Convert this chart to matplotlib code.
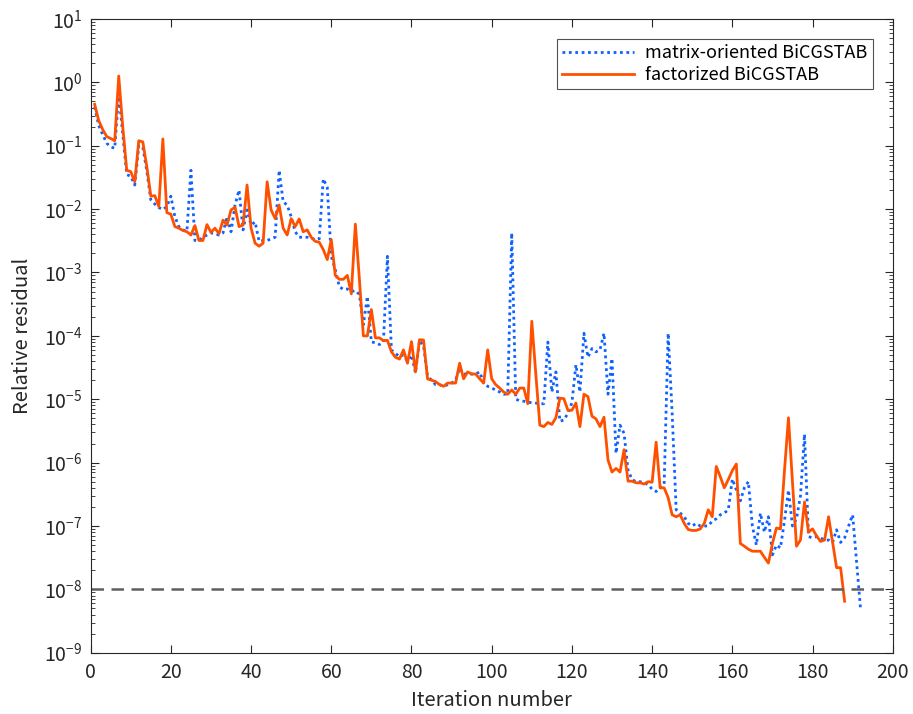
import matplotlib
matplotlib.use("Agg")
import matplotlib.pyplot as plt
from matplotlib.ticker import LogLocator, NullFormatter, MultipleLocator

plt.rcParams['font.family'] = ['Noto Sans CJK JP', 'DejaVu Sans']
plt.rcParams['mathtext.fontset'] = 'custom'
plt.rcParams['mathtext.rm'] = 'Noto Sans CJK JP'

# residual histories (iterations start at 1)
factorized = [
    0.45, 0.25, 0.18, 0.14, 0.13, 0.12, 1.26, 0.2, 0.041, 0.039,
    0.027, 0.12, 0.115, 0.047, 0.016, 0.0163, 0.011, 0.128, 0.0088, 0.0083,
    0.0053, 0.005, 0.0046, 0.0044, 0.0039, 0.0055, 0.0032, 0.0032, 0.0057, 0.0043,
    0.005, 0.0041, 0.0067, 0.0056, 0.0097, 0.0107, 0.0053, 0.0056, 0.024, 0.005,
    0.0029, 0.0026, 0.0029, 0.027, 0.0097, 0.0071, 0.0116, 0.005, 0.0039, 0.0071,
    0.0053, 0.007, 0.0044, 0.0047, 0.0036, 0.0031, 0.003, 0.0023, 0.0016, 0.0033,
    0.0009, 0.00078, 0.00078, 0.0009, 0.00046, 0.0058, 0.0008, 0.0001, 0.0001, 0.00026,
    9.3e-5, 9.3e-5, 8.4e-5, 8.5e-5, 5.6e-5, 4.6e-5, 4.3e-5, 6.0e-5, 3.7e-5, 8.1e-5,
    2.7e-5, 8.7e-5, 8.6e-5, 2.1e-5, 2.0e-5, 1.9e-5, 1.7e-5, 1.6e-5, 1.8e-5, 1.8e-5,
    1.8e-5, 3.7e-5, 2.1e-5, 2.7e-5, 2.5e-5, 2.5e-5, 2.1e-5, 1.8e-5, 6.0e-5, 2.1e-5,
    1.7e-5, 1.5e-5, 1.3e-5, 1.2e-5, 1.4e-5, 1.2e-5, 1.5e-5, 1.5e-5, 8.5e-6, 1.7e-4,
    2.5e-5, 3.9e-6, 3.7e-6, 4.3e-6, 4.0e-6, 5.1e-6, 1.04e-5, 1.02e-5, 6.7e-6, 6.7e-6,
    8.7e-6, 3.7e-6, 1.2e-5, 1.1e-5, 5.4e-6, 4.9e-6, 3.7e-6, 5.2e-6, 1.1e-6, 7.1e-7,
    8.1e-7, 7.1e-7, 1.6e-6, 5.1e-7, 5.1e-7, 4.8e-7, 4.8e-7, 4.6e-7, 5.0e-7, 4.9e-7,
    2.1e-6, 4.0e-7, 4.0e-7, 2.8e-7, 1.5e-7, 1.4e-7, 1.5e-7, 1.1e-7, 8.8e-8, 8.5e-8,
    8.5e-8, 9.0e-8, 1.1e-7, 1.8e-7, 1.4e-7, 8.7e-7, 6.0e-7, 4.0e-7, 5.4e-7, 7.5e-7,
    9.5e-7, 5.3e-8, 4.8e-8, 4.3e-8, 4.0e-8, 4.0e-8, 4.0e-8, 3.2e-8, 2.6e-8, 5.3e-8,
    9.3e-8, 9.0e-8, 7.4e-7, 5.1e-6, 5.0e-7, 4.8e-8, 6.0e-8, 2.4e-7, 8.0e-8, 9.0e-8,
    7.0e-8, 5.7e-8, 6.0e-8, 1.4e-7, 5.5e-8, 2.2e-8, 2.2e-8, 6.5e-9,
]

matrix_oriented = [
    0.41, 0.21, 0.15, 0.11, 0.096, 0.091, 0.67, 0.15, 0.035, 0.033,
    0.024, 0.1, 0.095, 0.04, 0.014, 0.012, 0.0106, 0.0098, 0.011, 0.016,
    0.0076, 0.0053, 0.0047, 0.0045, 0.041, 0.0032, 0.0032, 0.0036, 0.0039, 0.0042,
    0.0041, 0.0039, 0.0042, 0.0076, 0.0044, 0.0116, 0.02, 0.0047, 0.0097, 0.0056,
    0.0063, 0.0031, 0.0032, 0.0032, 0.0034, 0.0036, 0.041, 0.013, 0.0116, 0.0076,
    0.0044, 0.0036, 0.0036, 0.0036, 0.0035, 0.0033, 0.0034, 0.03, 0.022, 0.0018,
    0.0011, 0.0006, 0.00054, 0.00055, 0.0005, 0.00052, 0.00045, 0.00015, 0.00042, 8.0e-5,
    7.8e-5, 7.3e-5, 8.0e-5, 0.0018, 6.0e-5, 5.3e-5, 4.7e-5, 5.0e-5, 4.0e-5, 5.0e-5,
    2.6e-5, 8.5e-5, 7.0e-5, 2.3e-5, 2.0e-5, 1.7e-5, 1.7e-5, 1.6e-5, 1.7e-5, 1.8e-5,
    2.0e-5, 3.1e-5, 2.5e-5, 2.5e-5, 2.5e-5, 2.5e-5, 2.7e-5, 1.8e-5, 1.6e-5, 1.5e-5,
    1.4e-5, 1.3e-5, 1.2e-5, 1.2e-5, 0.0042, 1.0e-5, 9.5e-6, 9.3e-6, 9.0e-6, 8.8e-6,
    8.7e-6, 8.5e-6, 8.5e-6, 8.0e-5, 1.3e-5, 2.7e-5, 4.5e-6, 4.7e-6, 6.0e-6, 8.8e-6,
    3.5e-5, 1.3e-5, 0.00011, 4.6e-5, 6.3e-5, 5.6e-5, 6.0e-5, 0.00011, 1.2e-5, 4.4e-5,
    1.4e-6, 3.9e-6, 2.9e-6, 7.6e-7, 5.4e-7, 5.0e-7, 5.0e-7, 4.8e-7, 4.5e-7, 3.8e-7,
    3.5e-7, 4.0e-7, 4.5e-7, 0.00011, 6.0e-6, 1.8e-7, 1.6e-7, 1.4e-7, 1.1e-7, 1.0e-7,
    1.1e-7, 1.0e-7, 1.0e-7, 1.0e-7, 1.2e-7, 1.3e-7, 1.5e-7, 1.6e-7, 1.8e-7, 5.5e-7,
    3.7e-7, 2.5e-7, 4.0e-7, 5.0e-7, 1.0e-7, 5.0e-8, 1.6e-7, 8.0e-8, 1.4e-7, 3.5e-8,
    5.0e-8, 4.5e-8, 1.2e-7, 3.7e-7, 1.0e-7, 1.3e-7, 3.0e-7, 2.8e-6, 6.8e-8, 6.5e-8,
    6.8e-8, 6.5e-8, 6.0e-8, 6.0e-8, 5.5e-8, 8.7e-8, 5.5e-8, 6.5e-8, 1.0e-7, 1.5e-7,
    2.7e-8, 4.7e-9,
]

tol = 1e-8
decades = list(range(-9, 2))

it_f = list(range(1, len(factorized) + 1))
it_m = list(range(1, len(matrix_oriented) + 1))

fig = plt.figure(figsize=(9.13, 7.14), dpi=100)
ax = fig.add_axes([0.0993, 0.0858, 0.8785, 0.8876])

ax.semilogy(it_m, matrix_oriented, color='#0f62fe', linestyle=(0, (1, 1.3)),
            linewidth=2.0, label='matrix-oriented BiCGSTAB')
ax.semilogy(it_f, factorized, color='#ff5000', linewidth=2.0,
            label='factorized BiCGSTAB')
ax.axhline(tol, color='#606060', linestyle=(0, (5, 3)), linewidth=1.8)

ax.set_xlim(0, 200)
ax.set_ylim(1e-9, 1e1)
ax.xaxis.set_major_locator(MultipleLocator(20))
ax.set_yticks([10.0 ** k for k in decades])
ax.set_yticklabels([r'$\mathdefault{10^{%d}}$' % k for k in decades])
ax.yaxis.set_minor_locator(LogLocator(base=10, subs=range(2, 10), numticks=20))
ax.yaxis.set_minor_formatter(NullFormatter())
ax.set_ylim(1e-9, 1e1)
ax.tick_params(which='both', direction='in', top=True, right=True,
               labelsize=14, colors='#262626')
ax.tick_params(which='major', length=6)
ax.tick_params(which='minor', length=3)
ax.tick_params(axis='x', pad=7)
ax.tick_params(axis='y', pad=6)
for s in ax.spines.values():
    s.set_color('#262626')
    s.set_linewidth(0.8)

ax.set_xlabel('Iteration number', fontsize=14.5, color='#262626', labelpad=5)
ax.set_ylabel('Relative residual', fontsize=14.5, color='#262626', labelpad=8)

leg = ax.legend(loc='upper right', fontsize=13, frameon=True, fancybox=False,
                edgecolor='#262626', handlelength=4.0, borderaxespad=1.1,
                labelspacing=0.2, handletextpad=0.6, borderpad=0.3)
leg.get_frame().set_linewidth(0.8)

fig.savefig('out.png', dpi=100)
